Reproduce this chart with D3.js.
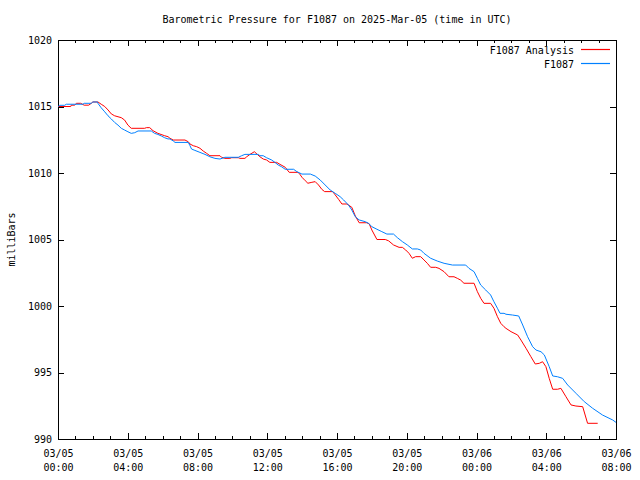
<!DOCTYPE html>
<html><head><meta charset="utf-8">
<script src="https://cdn.jsdelivr.net/npm/d3@7"></script>
<style>
body{margin:0;background:#fff;}
text{font-family:"DejaVu Sans Mono",monospace;font-size:10px;fill:#000;}
</style></head>
<body><svg id="c" width="640" height="480"></svg>
<script>
const chartTitle = "Barometric Pressure for F1087 on 2025-Mar-05 (time in UTC)";
const yLabel = "milliBars";
const seriesNames = ["F1087 Analysis", "F1087"];
const seriesColors = ["#ff0000", "#0080ff"];
const startTime = "2025-03-05T00:00:00Z";
const xDomainHours = [0, 32];
const yDomain = [990, 1020];
const yTicks = [990, 995, 1000, 1005, 1010, 1015, 1020];
const xMajorHours = [0, 4, 8, 12, 16, 20, 24, 28, 32];

// hours since start, pressure (mbar)
const analysisHours = [0,0.73,0.76,0.96,1.05,1.3,1.5,1.76,1.91,2.0,2.29,2.48,2.68,2.87,3.06,3.25,3.63,3.82,4.01,4.2,4.97,5.07,5.26,5.45,5.73,6.12,6.31,6.42,6.61,7.28,7.47,7.57,7.76,7.95,8.14,8.33,8.52,8.71,9.29,9.38,9.57,9.86,9.96,10.34,10.43,10.72,10.82,11.01,11.26,11.43,11.58,11.77,11.96,12.15,12.54,12.73,13.03,13.26,13.76,13.83,13.99,14.18,14.33,14.56,14.75,14.94,15.13,15.29,15.75,15.9,16.09,16.28,16.57,16.85,17.05,17.27,17.71,17.85,18.0,18.29,18.77,18.96,19.24,19.56,19.75,19.94,20.13,20.32,20.51,20.8,20.99,21.18,21.37,21.66,21.85,22.14,22.42,22.71,22.9,23.09,23.28,23.86,24.05,24.24,24.43,24.81,25.0,25.2,25.39,25.58,25.69,25.98,26.36,26.55,26.84,27.12,27.37,27.6,27.79,27.98,28.17,28.37,28.65,28.84,29.13,29.42,29.7,30.09,30.37,30.95];
const analysisValues = [1015.0,1015.0,1015.1,1015.1,1015.24,1015.24,1015.1,1015.1,1015.24,1015.34,1015.34,1015.17,1015.0,1014.74,1014.44,1014.3,1014.16,1013.98,1013.6,1013.36,1013.36,1013.41,1013.41,1013.18,1012.98,1012.8,1012.73,1012.61,1012.48,1012.48,1012.35,1012.18,1012.05,1011.98,1011.86,1011.65,1011.48,1011.3,1011.3,1011.18,1011.1,1011.1,1011.15,1011.15,1011.1,1011.1,1011.22,1011.4,1011.6,1011.4,1011.22,1011.05,1010.98,1010.8,1010.8,1010.65,1010.43,1010.05,1010.05,1009.98,1009.68,1009.42,1009.23,1009.3,1009.35,1009.1,1008.77,1008.6,1008.6,1008.35,1008.02,1007.67,1007.67,1007.42,1006.77,1006.26,1006.26,1006.17,1005.71,1005.0,1005.0,1004.9,1004.59,1004.41,1004.41,1004.21,1003.96,1003.59,1003.71,1003.71,1003.46,1003.21,1002.91,1002.91,1002.83,1002.58,1002.2,1002.2,1002.08,1001.95,1001.71,1001.71,1001.08,1000.58,1000.2,1000.2,999.83,999.2,998.7,998.44,998.32,998.07,997.82,997.44,996.82,996.19,995.64,995.69,995.81,995.44,994.56,993.74,993.74,993.81,993.18,992.56,992.48,992.43,991.18,991.18];

const stationHours = [0,0.1,0.38,0.48,1.43,1.5,1.91,2.0,2.26,2.29,2.48,2.68,2.87,3.06,3.25,3.44,3.63,3.82,4.01,4.2,4.4,4.59,5.35,5.54,5.73,5.93,6.12,6.31,6.42,6.61,6.71,7.47,7.57,7.66,7.85,8.14,8.43,8.71,9.0,9.29,9.57,10.34,10.53,10.72,11.49,11.58,11.77,11.96,12.25,12.44,12.63,12.82,13.03,13.51,13.7,13.99,14.47,14.75,15.04,15.32,15.61,15.9,16.18,16.38,16.66,16.85,17.05,17.27,17.62,17.81,18.0,18.29,18.57,18.86,19.24,19.46,19.75,20.03,20.32,20.61,20.8,20.99,21.37,21.75,22.14,22.62,23.38,23.57,23.86,24.05,24.24,24.53,24.81,25.0,25.2,25.35,25.58,25.69,26.07,26.42,26.65,26.93,27.22,27.41,27.7,27.89,28.17,28.37,28.65,28.94,29.23,29.7,30.18,30.66,31.23,31.81,32.0];
const stationValues = [1015.0,1015.09,1015.09,1015.17,1015.17,1015.24,1015.24,1015.34,1015.34,1015.24,1014.9,1014.6,1014.3,1014.06,1013.8,1013.6,1013.36,1013.23,1013.1,1012.98,1013.03,1013.16,1013.16,1012.98,1012.9,1012.78,1012.65,1012.56,1012.56,1012.41,1012.3,1012.3,1012.05,1011.8,1011.7,1011.55,1011.4,1011.22,1011.1,1011.05,1011.18,1011.18,1011.3,1011.4,1011.4,1011.3,1011.3,1011.15,1010.98,1010.8,1010.6,1010.47,1010.28,1010.28,1010.1,1009.92,1009.92,1009.77,1009.47,1009.1,1008.72,1008.47,1008.22,1007.97,1007.59,1007.22,1006.71,1006.47,1006.34,1006.22,1005.96,1005.77,1005.59,1005.41,1005.41,1005.14,1004.84,1004.59,1004.29,1004.29,1004.21,1003.96,1003.59,1003.38,1003.21,1003.08,1003.08,1002.83,1002.58,1002.08,1001.58,1001.2,1000.83,1000.32,999.83,999.45,999.45,999.38,999.32,999.25,998.57,997.69,996.94,996.69,996.56,996.32,995.44,994.74,994.68,994.56,994.06,993.44,992.81,992.31,991.8,991.43,991.25];

const W = 640, H = 480;
const m = {left:58, right:24, top:40, bottom:41};
const svg = d3.select("#c");
const t0 = new Date(startTime);
const hr = h => new Date(t0.getTime() + h*3600000);

const x = d3.scaleUtc().domain(xDomainHours.map(hr)).range([m.left, W - m.right]);
const y = d3.scaleLinear().domain(yDomain).range([H - m.bottom, m.top]);

const fmtD = d3.utcFormat("%m/%d"), fmtT = d3.utcFormat("%H:%M");
const majorDates = xMajorHours.map(hr);
const minorDates = d3.utcHour.range(hr(xDomainHours[0]), hr(xDomainHours[1]));

// minor x ticks bottom/top
svg.append("g").attr("transform",`translate(0,${H-m.bottom})`)
  .call(d3.axisBottom(x).tickValues(minorDates).tickSize(-3).tickFormat(""))
  .call(g=>g.select(".domain").remove());
svg.append("g").attr("transform",`translate(0,${m.top})`)
  .call(d3.axisTop(x).tickValues(minorDates).tickSize(-3).tickFormat(""))
  .call(g=>g.select(".domain").remove());

// major bottom axis
const gx = svg.append("g").attr("transform",`translate(0,${H-m.bottom})`)
  .call(d3.axisBottom(x).tickValues(majorDates).tickSize(-6).tickPadding(10).tickFormat(""));
gx.selectAll(".tick text").attr("dy",null).each(function(d){
  const t = d3.select(this);
  t.append("tspan").attr("x",0).attr("dy","0.8em").text(fmtD(d));
  t.append("tspan").attr("x",0).attr("dy","14").text(fmtT(d));
});
svg.append("g").attr("transform",`translate(0,${m.top})`)
  .call(d3.axisTop(x).tickValues(majorDates).tickSize(-6).tickFormat(""));

svg.append("g").attr("transform",`translate(${m.left},0)`)
  .call(d3.axisLeft(y).tickValues(yTicks).tickSize(-6).tickPadding(6).tickFormat(d3.format("d")));
svg.append("g").attr("transform",`translate(${W-m.right},0)`)
  .call(d3.axisRight(y).tickValues(yTicks).tickSize(-6).tickFormat(""));

svg.selectAll(".tick text").attr("font-family",null).attr("font-size",null);
svg.selectAll(".domain, .tick line").attr("stroke","#000").attr("shape-rendering","crispEdges");

const line = d3.line().x(d=>x(hr(d[0]))).y(d=>y(d[1]));
const series = [d3.zip(analysisHours, analysisValues), d3.zip(stationHours, stationValues)];
series.forEach((s,i)=>{
  svg.append("path").datum(s).attr("d",line).attr("fill","none")
    .attr("stroke",seriesColors[i]).attr("stroke-width",1);
});

// legend
seriesNames.forEach((n,i)=>{
  const ly = 50 + i*14;
  svg.append("text").attr("x",574).attr("y",ly).attr("dy","0.35em").attr("text-anchor","end").text(n);
  svg.append("path").attr("d",`M581,${ly-0.5}H610`).attr("fill","none")
    .attr("stroke",seriesColors[i]).attr("stroke-width",1.2);
});

svg.append("text").attr("x",(m.left+W-m.right)/2).attr("y",19).attr("dy","0.35em")
  .attr("text-anchor","middle").text(chartTitle);
svg.append("text").attr("transform",`translate(11,${(m.top+H-m.bottom)/2}) rotate(-90)`)
  .attr("dy","0.35em").attr("text-anchor","middle").text(yLabel);
</script></body></html>
